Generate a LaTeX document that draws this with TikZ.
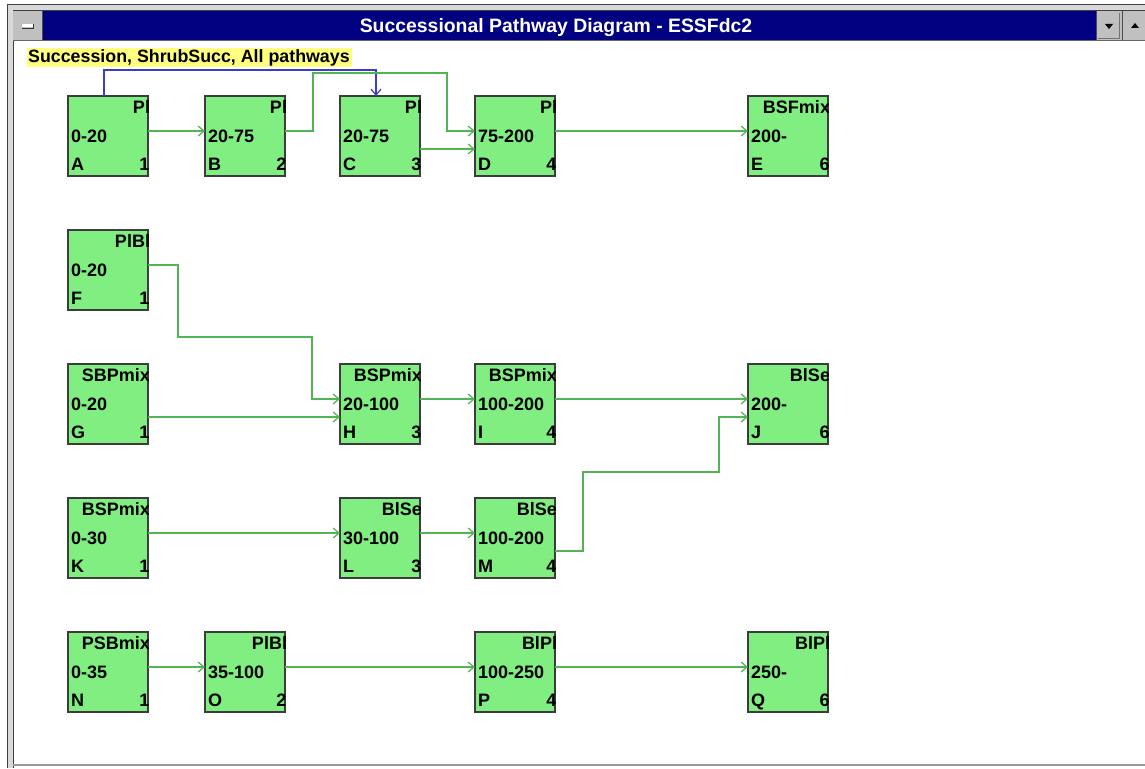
\documentclass[tikz,border=0pt]{standalone}
\usepackage{fontspec}
\setmainfont{Liberation Sans}
\usetikzlibrary{arrows.meta,calc}
\definecolor{titleblue}{RGB}{0,0,128}
\definecolor{boxgreen}{RGB}{128,238,128}
\definecolor{boxedge}{RGB}{60,60,60}
\definecolor{conngreen}{RGB}{82,180,82}
\definecolor{connblue}{RGB}{60,60,200}
\definecolor{winGrey}{RGB}{192,192,192}
\definecolor{hiyellow}{RGB}{255,255,128}
\tikzset{
  stagebox/.style={draw=boxedge, line width=1.4pt, fill=boxgreen, minimum width=80pt, minimum height=80pt, inner sep=0pt, outer sep=0pt, anchor=north west},
  lbl/.style={inner sep=0pt, outer sep=0pt, font=\fontsize{18}{20}\selectfont\bfseries, text=black},
  conn/.style={draw=conngreen, line width=1.5pt, -{Straight Barb[length=6pt,width=10pt,line width=1.2pt]}},
  bconn/.style={draw=connblue, line width=1.5pt, -{Straight Barb[length=6pt,width=10pt,line width=1.2pt]}},
  frameline/.style={draw=black!75, line width=1pt}
}
\newcommand\stage[7]{%
  \node[stagebox] (#1) at (#2,-#3) {};
  \begin{scope}
    \clip (#1.north west) rectangle (#1.south east);
    \node[lbl, anchor=base east] (#1t) at ([xshift=2pt,yshift=-17pt]#1.north east) {#4};
    \node[lbl, anchor=base west] (#1r) at ([xshift=3pt,yshift=-46pt]#1.north west) {#5};
    \node[lbl, anchor=base west] (#1l) at ([xshift=3pt,yshift=-74pt]#1.north west) {#6};
    \node[lbl, anchor=base east] (#1n) at ([xshift=1.5pt,yshift=-74pt]#1.north east) {#7};
  \end{scope}
}
\begin{document}
\begin{tikzpicture}[x=1pt,y=1pt]
\useasboundingbox (0,0) rectangle (1145,-768);
\fill[white] (0,0) rectangle (1145,-768);
% window frame
\fill[winGrey!60] (7,-5) rectangle (1145,-11);
\fill[winGrey!60] (7,-5) rectangle (13,-768);
\draw[frameline] (7,-768) -- (7,-5) -- (1145,-5);
\draw[frameline] (13,-768) -- (13,-11) -- (1145,-11);
\draw[draw=black!40, line width=1.2pt] (13,-765) -- (1145,-765);
% title bar
\fill[winGrey] (13,-11.5) rectangle (42,-40);
\draw[black!70, line width=0.8pt] (42,-11.5) -- (42,-40);
\fill[white] (22,-24.5) rectangle (33,-27.5);
\draw[black!80, line width=0.8pt] (22,-28) -- (33,-28) -- (33,-24.5);
\fill[titleblue] (42.5,-11.5) rectangle (1096,-40);
\fill[winGrey] (1096.5,-11.5) rectangle (1145,-40);
\draw[black!70, line width=0.8pt] (1096,-11.5) -- (1096,-40);
\draw[black!70, line width=0.8pt] (1122,-11.5) -- (1122,-40);
\draw[black!55, line width=0.8pt] (1119,-13) -- (1119,-38) -- (1098,-38);
\fill[black] (1105,-24) -- (1113,-24) -- (1109,-29) -- cycle;
\fill[black] (1131,-28) -- (1139,-28) -- (1135,-23) -- cycle;
\draw[black!60, line width=1pt] (13,-40.5) -- (1145,-40.5);
\node[inner sep=0pt, text=white, font=\fontsize{19.4}{22}\selectfont\bfseries, anchor=base] (title) at (556,-33) {Successional Pathway Diagram - ESSFdc2};
% heading label
\fill[hiyellow] (27,-48) rectangle (352,-67);
\node[inner sep=0pt, font=\fontsize{17.8}{20}\selectfont\bfseries, anchor=base west] (heading) at (28,-63) {Succession, ShrubSucc, All pathways};
% boxes
\stage{A}{68}{96}{Pl}{0-20}{A}{1}
\stage{B}{205}{96}{Pl}{20-75}{B}{2}
\stage{C}{340}{96}{Pl}{20-75}{C}{3}
\stage{D}{475}{96}{Pl}{75-200}{D}{4}
\stage{E}{748}{96}{BSFmix}{200-}{E}{6}
\stage{F}{68}{230}{PlBl}{0-20}{F}{1}
\stage{G}{68}{364}{SBPmix}{0-20}{G}{1}
\stage{H}{340}{364}{BSPmix}{20-100}{H}{3}
\stage{I}{475}{364}{BSPmix}{100-200}{I}{4}
\stage{J}{748}{364}{BlSe}{200-}{J}{6}
\stage{K}{68}{498}{BSPmix}{0-30}{K}{1}
\stage{L}{340}{498}{BlSe}{30-100}{L}{3}
\stage{M}{475}{498}{BlSe}{100-200}{M}{4}
\stage{N}{68}{632}{PSBmix}{0-35}{N}{1}
\stage{O}{205}{632}{PlBl}{35-100}{O}{2}
\stage{P}{475}{632}{BlPl}{100-250}{P}{4}
\stage{Q}{748}{632}{BlPl}{250-}{Q}{6}
% connectors
\draw[bconn] ([xshift=-4pt]A.north) -- ++(0,26) -| ([xshift=-4pt]C.north);
\draw[conn] ([yshift=5pt]A.east) -- ([yshift=5pt]B.west);
\draw[conn] ([yshift=5pt]B.east) -- ++(28,0) -- ++(0,58) -| ($(D.west)+(-28,5)$) -- ([yshift=5pt]D.west);
\draw[conn] ([yshift=-13pt]C.east) -- ([yshift=-13pt]D.west);
\draw[conn] ([yshift=5pt]D.east) -- ([yshift=5pt]E.west);
\draw[conn] ([yshift=5pt]F.east) -- ++(30,0) -- ++(0,-72) -| ($(H.west)+(-28,5)$) -- ([yshift=5pt]H.west);
\draw[conn] ([yshift=-13pt]G.east) -- ([yshift=-13pt]H.west);
\draw[conn] ([yshift=5pt]H.east) -- ([yshift=5pt]I.west);
\draw[conn] ([yshift=5pt]I.east) -- ([yshift=5pt]J.west);
\draw[conn] ([yshift=-13pt]M.east) -- ++(28,0) -- ++(0,79) -| ($(J.west)+(-29,-13)$) -- ([yshift=-13pt]J.west);
\draw[conn] ([yshift=5pt]K.east) -- ([yshift=5pt]L.west);
\draw[conn] ([yshift=5pt]L.east) -- ([yshift=5pt]M.west);
\draw[conn] ([yshift=5pt]N.east) -- ([yshift=5pt]O.west);
\draw[conn] ([yshift=5pt]O.east) -- ([yshift=5pt]P.west);
\draw[conn] ([yshift=5pt]P.east) -- ([yshift=5pt]Q.west);
\end{tikzpicture}
\end{document}
